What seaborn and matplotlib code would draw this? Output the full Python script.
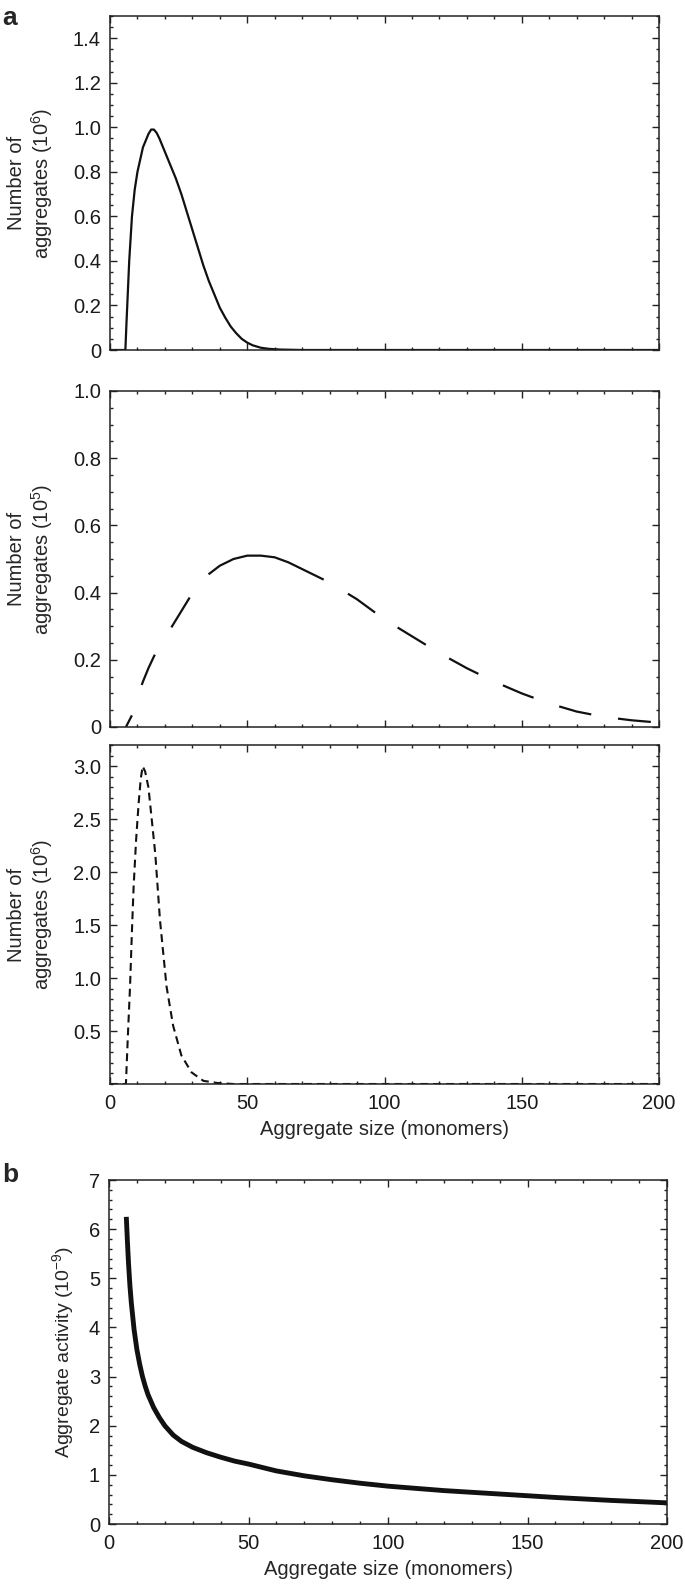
import matplotlib
matplotlib.use("Agg")
import matplotlib.pyplot as plt
import seaborn as sns
from matplotlib.ticker import MultipleLocator

# panel a, top (solid line): number of aggregates, units of 10^6
size_a1 = [0, 5.6, 6, 7, 8, 9, 10, 12, 14, 15, 16, 17, 18, 20, 22, 24, 26, 28, 30, 32, 34, 36, 38,
           40, 42, 44, 46, 48, 50, 52, 55, 58, 62, 70, 100, 150, 200]
count_a1 = [0, 0, 0.12, 0.40, 0.60, 0.72, 0.80, 0.91, 0.97, 0.99, 0.99, 0.975, 0.95, 0.89, 0.83,
            0.77, 0.70, 0.62, 0.54, 0.46, 0.38, 0.31, 0.25, 0.19, 0.145, 0.105, 0.075, 0.05,
            0.033, 0.021, 0.01, 0.005, 0.002, 0, 0, 0, 0]

# panel a, middle (long dashes): units of 10^5
size_a2 = [5.8, 8, 10, 12, 14, 16, 18, 20, 23, 26, 29, 32, 36, 40, 45, 50, 55, 60, 65, 70, 75,
           80, 85, 90, 100, 110, 120, 130, 140, 150, 160, 170, 180, 190, 200]
count_a2 = [0, 0.035, 0.09, 0.135, 0.175, 0.21, 0.24, 0.265, 0.305, 0.345, 0.385, 0.42, 0.455,
            0.48, 0.50, 0.51, 0.51, 0.505, 0.49, 0.47, 0.45, 0.43, 0.405, 0.38, 0.32, 0.27, 0.22,
            0.175, 0.135, 0.10, 0.07, 0.046, 0.03, 0.02, 0.013]

# panel a, bottom (short dashes): units of 10^6
size_a3 = [0, 5.8, 6.5, 7.3, 8, 8.6, 9.5, 10.4, 11.2, 11.9, 12.8, 14, 15, 16.5, 18.2, 20.6, 23,
           26, 29.7, 34, 39, 45, 60, 100, 150, 200]
count_a3 = [0, 0, 0.45, 0.92, 1.45, 1.86, 2.3, 2.64, 2.88, 3.0, 2.95, 2.8, 2.55, 2.17, 1.55, 0.92,
            0.55, 0.27, 0.11, 0.03, 0.01, 0, 0, 0, 0, 0]

# panel b: aggregate activity, units of 10^-9
size_b = [6.2, 6.6, 7, 7.5, 8, 9, 10, 11, 12, 13, 14, 16, 18, 20, 23, 26, 30, 35, 40, 45, 50,
          60, 70, 80, 90, 100, 120, 140, 160, 180, 200]
activity_b = [6.25, 5.75, 5.3, 4.85, 4.5, 3.95, 3.55, 3.25, 3.0, 2.8, 2.63, 2.37, 2.17, 2.0,
              1.81, 1.68, 1.56, 1.45, 1.36, 1.28, 1.22, 1.08, 0.98, 0.90, 0.83, 0.77, 0.68,
              0.61, 0.54, 0.48, 0.43]

xticks = [0, 50, 100, 150, 200]
xtick_labels = ["0", "50", "100", "150", "200"]
yticks_a1 = [0, 0.2, 0.4, 0.6, 0.8, 1.0, 1.2, 1.4]
ylabels_a1 = ["0", "0.2", "0.4", "0.6", "0.8", "1.0", "1.2", "1.4"]
yticks_a2 = [0, 0.2, 0.4, 0.6, 0.8, 1.0]
ylabels_a2 = ["0", "0.2", "0.4", "0.6", "0.8", "1.0"]
yticks_a3 = [0.5, 1.0, 1.5, 2.0, 2.5, 3.0]
ylabels_a3 = ["0.5", "1.0", "1.5", "2.0", "2.5", "3.0"]
yticks_b = [0, 1, 2, 3, 4, 5, 6, 7]
ylabels_b = ["0", "1", "2", "3", "4", "5", "6", "7"]

sns.set_style("ticks")
plt.rcParams["font.family"] = ["Liberation Sans", "DejaVu Sans"]
plt.rcParams["mathtext.default"] = "regular"
plt.rcParams["lines.scale_dashes"] = False

# dash patterns in points: the middle curve has one long dash around its maximum
long_dash = (0, [9.4, 23, 23.8, 23, 25.2, 21.6, 90, 20.2] + [23.8, 19.5] * 10)
short_dash = (0, (5.7, 3.6))

W, H = 685, 1584
fig = plt.figure(figsize=(W / 100, H / 100), dpi=100)
fig.patch.set_facecolor("white")


def box(l, t, r, b):
    return [l / W, 1 - b / H, (r - l) / W, (b - t) / H]


def style(ax, ymax, yt, yl, yminor, show_x):
    ax.set_xlim(0, 200)
    ax.set_ylim(0, ymax)
    ax.set_xticks(xticks, xtick_labels)
    ax.set_yticks(yt, yl)
    ax.xaxis.set_minor_locator(MultipleLocator(10))
    ax.yaxis.set_minor_locator(MultipleLocator(yminor))
    ax.tick_params(which="both", direction="in", top=True, right=True,
                   color="#222222", width=1)
    ax.tick_params(which="major", length=5)
    ax.tick_params(which="minor", length=2.5)
    ax.tick_params(axis="y", labelsize=14.5, pad=6.5, labelcolor="#1a1a1a")
    ax.tick_params(axis="x", labelsize=14.5, pad=7, labelcolor="#1a1a1a",
                   labelbottom=show_x)
    for s in ax.spines.values():
        s.set_linewidth(1.1)
        s.set_color("#222222")


ax1 = fig.add_axes(box(110, 16, 659, 350))
ax2 = fig.add_axes(box(110, 391, 659, 727))
ax3 = fig.add_axes(box(110, 745, 659, 1084))
axb = fig.add_axes(box(109, 1180, 667, 1524))

sns.lineplot(x=size_a1, y=count_a1, ax=ax1, color="#111111", linewidth=1.6)
sns.lineplot(x=size_a2, y=count_a2, ax=ax2, color="#111111", linewidth=1.6,
             linestyle=long_dash)
sns.lineplot(x=size_a3, y=count_a3, ax=ax3, color="#111111", linewidth=1.5,
             linestyle=short_dash)
sns.lineplot(x=size_b, y=activity_b, ax=axb, color="#111111", linewidth=3.5,
             solid_capstyle="butt")

style(ax1, 1.5, yticks_a1, ylabels_a1, 0.05, False)
style(ax2, 1.0, yticks_a2, ylabels_a2, 0.05, False)
style(ax3, 3.2, yticks_a3, ylabels_a3, 0.1, True)
style(axb, 7, yticks_b, ylabels_b, 0.2, True)

ax1.set_ylabel("Number of\naggregates (10$^{6}$)", fontsize=14.5, linespacing=1.15)
ax2.set_ylabel("Number of\naggregates (10$^{5}$)", fontsize=14.5, linespacing=1.15)
ax3.set_ylabel("Number of\naggregates (10$^{6}$)", fontsize=14.5, linespacing=1.15)
axb.set_ylabel("Aggregate activity (10$^{-9}$)", fontsize=14)
for ax in (ax1, ax2, ax3):
    ax.yaxis.set_label_coords(-0.100, 0.5)
axb.yaxis.set_label_coords(-0.060, 0.5)

ax3.set_xlabel("Aggregate size (monomers)", fontsize=14.5, labelpad=5)
axb.set_xlabel("Aggregate size (monomers)", fontsize=14.5, labelpad=5)

fig.text(2 / W, 1 - 25 / H, "a", fontsize=19, fontweight="bold", va="baseline")
fig.text(2 / W, 1 - 1182 / H, "b", fontsize=19, fontweight="bold", va="baseline")

fig.savefig("out.png", dpi=100, facecolor="white")
